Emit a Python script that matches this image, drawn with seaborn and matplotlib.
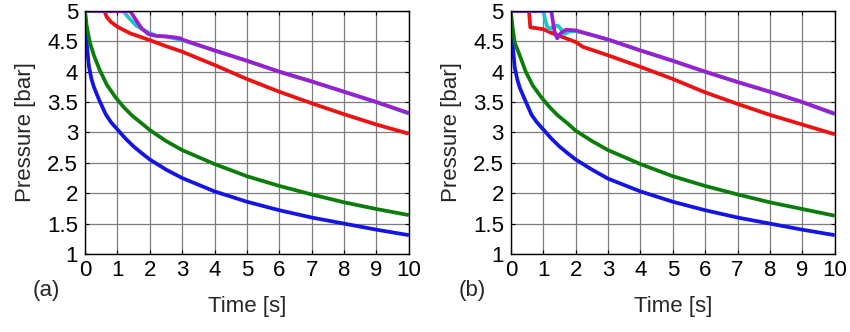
import numpy as np
import pandas as pd
import matplotlib
matplotlib.use("Agg")
import matplotlib.pyplot as plt
import seaborn as sns

# ---- panel (a) ----
a_blue_t = [0, 0.02, 0.05, 0.12, 0.2, 0.28, 0.45, 0.64, 0.8, 1.0, 1.25, 1.5, 1.75, 2.0, 2.5, 3.0, 4.0, 5.0, 6.0, 7.0, 8.0, 9.0, 10.0]
a_blue_p = [5.0, 4.75, 4.49, 4.09, 3.88, 3.74, 3.52, 3.30, 3.17, 3.05, 2.90, 2.77, 2.66, 2.555, 2.39, 2.25, 2.03, 1.86, 1.72, 1.60, 1.50, 1.40, 1.31]

a_green_t = [0, 0.05, 0.15, 0.28, 0.46, 0.68, 0.94, 1.19, 1.45, 1.75, 2.0, 2.5, 3.0, 4.0, 5.0, 6.0, 7.0, 8.0, 9.0, 10.0]
a_green_p = [5.0, 4.76, 4.48, 4.26, 4.02, 3.78, 3.58, 3.42, 3.28, 3.15, 3.04, 2.86, 2.71, 2.48, 2.28, 2.12, 1.98, 1.85, 1.74, 1.64]

a_red_t = [0, 0.6, 0.67, 0.8, 1.0, 1.4, 2.0, 2.5, 3.0, 4.0, 5.0, 6.0, 7.0, 8.0, 9.0, 10.0]
a_red_p = [5.0, 5.0, 4.9, 4.82, 4.74, 4.63, 4.52, 4.42, 4.33, 4.11, 3.88, 3.67, 3.48, 3.30, 3.13, 2.98]

a_cyan_t = [0, 1.18, 1.33, 1.58, 1.9, 2.2, 2.5, 3.0, 4.0, 5.0, 6.0, 7.0, 8.0, 9.0, 10.0]
a_cyan_p = [5.0, 5.0, 4.9, 4.76, 4.66, 4.59, 4.58, 4.52, 4.35, 4.18, 4.0, 3.84, 3.67, 3.5, 3.31]

a_purple_t = [0, 1.39, 1.54, 1.75, 1.96, 2.2, 2.5, 2.7, 2.94, 3.0, 4.0, 5.0, 6.0, 7.0, 8.0, 9.0, 10.0]
a_purple_p = [5.0, 5.0, 4.88, 4.71, 4.62, 4.59, 4.58, 4.57, 4.55, 4.53, 4.35, 4.18, 4.0, 3.84, 3.67, 3.5, 3.32]

# ---- panel (b) ----
b_blue_t = [0, 0.02, 0.05, 0.12, 0.2, 0.28, 0.45, 0.64, 0.8, 1.0, 1.25, 1.5, 1.75, 2.0, 2.5, 3.0, 4.0, 5.0, 6.0, 7.0, 8.0, 9.0, 10.0]
b_blue_p = [5.0, 4.75, 4.48, 4.07, 3.87, 3.73, 3.52, 3.29, 3.17, 3.05, 2.90, 2.77, 2.66, 2.555, 2.39, 2.24, 2.03, 1.86, 1.72, 1.60, 1.50, 1.40, 1.31]

b_green_t = [0, 0.05, 0.12, 0.28, 0.46, 0.68, 0.94, 1.19, 1.45, 1.75, 2.0, 2.5, 3.0, 4.0, 5.0, 6.0, 7.0, 8.0, 9.0, 10.0]
b_green_p = [5.0, 4.74, 4.48, 4.26, 4.0, 3.77, 3.58, 3.42, 3.28, 3.15, 3.03, 2.86, 2.71, 2.48, 2.28, 2.12, 1.98, 1.85, 1.74, 1.63]

b_red_t = [0, 0.56, 0.6, 0.74, 1.0, 1.25, 1.6, 2.0, 2.22, 2.5, 3.0, 4.0, 5.0, 6.0, 7.0, 8.0, 9.0, 10.0]
b_red_p = [5.0, 5.0, 4.73, 4.72, 4.70, 4.64, 4.57, 4.49, 4.41, 4.36, 4.27, 4.08, 3.88, 3.66, 3.47, 3.29, 3.13, 2.97]

b_cyan_t = [0, 1.0, 1.05, 1.12, 1.2, 1.3, 1.45, 1.55, 1.65, 1.8, 2.0, 2.4, 3.0, 4.0, 5.0, 6.0, 7.0, 8.0, 9.0, 10.0]
b_cyan_p = [5.0, 5.0, 4.88, 4.74, 4.70, 4.74, 4.76, 4.70, 4.62, 4.66, 4.67, 4.62, 4.53, 4.35, 4.18, 4.0, 3.83, 3.67, 3.5, 3.30]

b_purple_t = [0, 1.25, 1.3, 1.35, 1.43, 1.55, 1.7, 2.0, 2.4, 3.0, 4.0, 5.0, 6.0, 7.0, 8.0, 9.0, 10.0]
b_purple_p = [5.0, 5.0, 4.82, 4.66, 4.55, 4.64, 4.69, 4.68, 4.62, 4.53, 4.35, 4.18, 4.0, 3.83, 3.67, 3.5, 3.31]

x_ticks = list(range(0, 11))
y_ticks = [1, 1.5, 2, 2.5, 3, 3.5, 4, 4.5, 5]
y_tick_labels = ["1", "1.5", "2", "2.5", "3", "3.5", "4", "4.5", "5"]

colors = {
    "blue": "#1414e6",
    "green": "#0b7d0b",
    "red": "#ee1111",
    "cyan": "#22c4c8",
    "purple": "#9b1fd1",
}
order = ["blue", "green", "red", "cyan", "purple"]


def frame(series):
    rows = []
    for name, (t, p) in series.items():
        for ti, pi in zip(t, p):
            rows.append({"Time": ti, "Pressure": pi, "series": name})
    return pd.DataFrame(rows)


panels = {
    "(a)": frame({
        "blue": (a_blue_t, a_blue_p),
        "green": (a_green_t, a_green_p),
        "red": (a_red_t, a_red_p),
        "cyan": (a_cyan_t, a_cyan_p),
        "purple": (a_purple_t, a_purple_p),
    }),
    "(b)": frame({
        "blue": (b_blue_t, b_blue_p),
        "green": (b_green_t, b_green_p),
        "red": (b_red_t, b_red_p),
        "cyan": (b_cyan_t, b_cyan_p),
        "purple": (b_purple_t, b_purple_p),
    }),
}

sns.set_style("white")
plt.rcParams["font.family"] = ["Liberation Sans", "DejaVu Sans"]
plt.rcParams["font.size"] = 16

fig = plt.figure(figsize=(8.5, 3.32), dpi=100)
rects = [[0.100, 0.235, 0.381, 0.732], [0.601, 0.235, 0.381, 0.732]]

for rect, (tag, df) in zip(rects, panels.items()):
    ax = fig.add_axes(rect)
    for name in order:
        sub = df[df["series"] == name]
        sns.lineplot(data=sub, x="Time", y="Pressure", color=colors[name],
                     linewidth=2.7, estimator=None, sort=False, ax=ax,
                     legend=False, solid_joinstyle="round", solid_capstyle="butt")
    ax.set_xlim(0, 10)
    ax.set_ylim(1, 5)
    ax.set_xticks(x_ticks)
    ax.set_xticklabels([str(v) for v in x_ticks])
    ax.set_yticks(y_ticks)
    ax.set_yticklabels(y_tick_labels)
    ax.grid(True, color="#7d7d7d", linewidth=0.9)
    ax.set_axisbelow(True)
    for s in ax.spines.values():
        s.set_visible(True)
        s.set_color("black")
        s.set_linewidth(1.0)
    ax.tick_params(direction="in", length=3, width=0.8, labelsize=16,
                   top=True, right=True, left=True, bottom=True, pad=4, colors="black")
    ax.tick_params(axis="y", pad=5)
    ax.set_xlabel("Time [s]", fontsize=16, labelpad=11)
    ax.set_ylabel("Pressure [bar]", fontsize=16, labelpad=8)
    ax.text(-0.12, -0.15, tag, transform=ax.transAxes, fontsize=16,
            ha="center", va="center")

fig.savefig("out.png", dpi=100)
